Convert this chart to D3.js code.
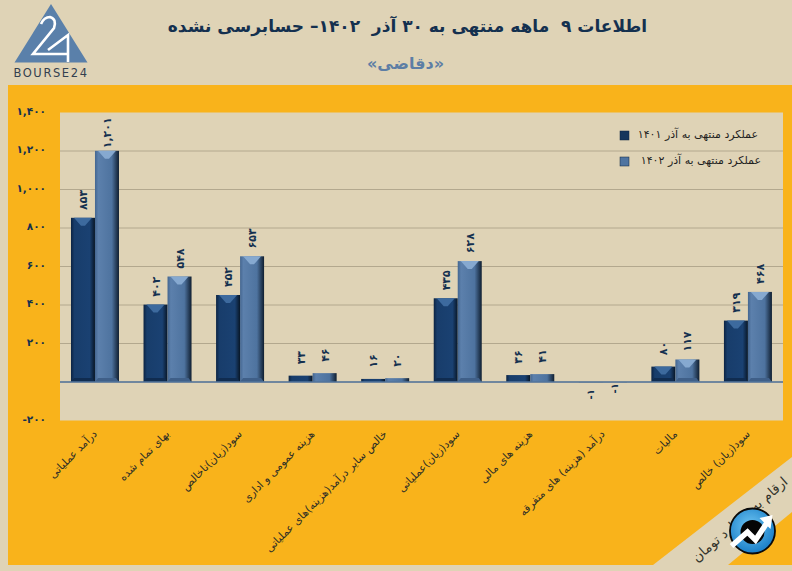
<!DOCTYPE html>
<html lang="fa"><head><meta charset="utf-8">
<style>html,body{margin:0;padding:0;background:#dfd3b6}svg{display:block}text{font-family:"DejaVu Sans",sans-serif;white-space:pre}</style>
<script src="https://cdn.jsdelivr.net/npm/d3@7/dist/d3.min.js"></script>
</head><body><div id="c"></div>
<script>
const categories=["درآمد عملیاتی","بهای تمام شده","سود(زیان)ناخالص","هزینه عمومی و اداری","خالص سایر درآمد(هزینه)های عملیاتی","سود(زیان)عملیاتی","هزینه های مالی","درآمد (هزینه) های متفرقه","مالیات","سود(زیان) خالص"];
const series1401=[853,402,452,33,16,435,36,-1,80,319];
const series1402=[1201,548,653,46,20,628,41,-1,117,468];
const seriesNames=["عملکرد منتهی به آذر ۱۴۰۱","عملکرد منتهی به آذر ۱۴۰۲"];
const tickValues=[-200,0,200,400,600,800,1000,1200,1400];
const titleText="اطلاعات ۹  ماهه منتهی به ۳۰ آذر  ۱۴۰۲– حسابرسی نشده";
const subtitleText="«دقاضی»";
const noteText="ارقام به میلیارد تومان";

const W=792,H=571,cream="#dfd3b6",orange="#f9b31b",navy="#14304f";
const fa=s=>String(s).replace(/\d/g,d=>"۰۱۲۳۴۵۶۷۸۹"[d]);
const fmt=v=>v===0?"":v<0?"-"+fa(d3.format(",")(-v)):fa(d3.format(",")(v));
const svg=d3.select("#c").append("svg").attr("width",W).attr("height",H).attr("viewBox",[0,0,W,H]);
const defs=svg.append("defs");
function grad(id,stops,x2,y2){const g=defs.append("linearGradient").attr("id",id).attr("x1",0).attr("y1",0).attr("x2",x2).attr("y2",y2);
 stops.forEach(([o,c])=>g.append("stop").attr("offset",o).attr("stop-color",c));}
grad("b1",[[0,"#0c2342"],[.14,"#183d6b"],[.78,"#1a4172"],[1,"#081626"]],1,0);
grad("b2",[[0,"#446690"],[.14,"#5c80ac"],[.7,"#4e739f"],[1,"#0f1e30"]],1,0);
const ball=defs.append("radialGradient").attr("id","ball").attr("cx",.45).attr("cy",.4).attr("r",.65);
ball.append("stop").attr("offset",0).attr("stop-color","#6fc6f3");
ball.append("stop").attr("offset",1).attr("stop-color","#1278c4");

svg.append("rect").attr("width",W).attr("height",H).attr("fill",cream);
svg.append("rect").attr("x",8).attr("y",85).attr("width",784).attr("height",480).attr("fill",orange);

// plot
const x=d3.scaleBand().domain(categories).range([58.7,784.2]);
const y=d3.scaleLinear().domain([-200,1400]).range([420.5,112.5]);
const barW=24;
svg.append("rect").attr("x",60).attr("y",y(1400)).attr("width",723).attr("height",y(-200)-y(1400)).attr("fill",cream);
svg.append("g").selectAll("line").data(tickValues.filter(t=>t>-200&&t<1400)).join("line")
 .attr("x1",60).attr("x2",783).attr("y1",y).attr("y2",y).attr("stroke","#b3a88e").attr("stroke-width",1);

const yAxis=d3.axisLeft(y).tickValues(tickValues).tickFormat(fmt).tickSize(0).tickPadding(14);
const ga=svg.append("g").attr("transform","translate(60,-1.5)").call(yAxis);
ga.select(".domain").remove();
ga.selectAll("text").attr("fill",navy).attr("font-size",10.5).attr("font-weight","bold").style("font-family",'"DejaVu Sans",sans-serif');

const rows=[{v:series1401,f:"url(#b1)",tip:"#3d6a9e",off:0},{v:series1402,f:"url(#b2)",tip:"#86a9d0",off:barW}];
rows.forEach((s,si)=>{
 const g=svg.append("g");
 const bx=i=>x(categories[i])+x.bandwidth()/2-barW+s.off;
 const data=s.v.map((v,i)=>({v,i}));
 g.selectAll("rect").data(data).join("rect")
  .attr("x",d=>bx(d.i)).attr("width",barW)
  .attr("y",d=>Math.min(y(d.v),y(0))).attr("height",d=>Math.abs(y(d.v)-y(0)))
  .attr("fill",s.f);
 g.selectAll("path.tip").data(data.filter(d=>d.v>60)).join("path").attr("class","tip")
  .attr("d",d=>{const X=bx(d.i),T=y(d.v);return `M${X+3},${T}L${X+barW-3},${T}L${X+barW/2+2},${T+8}L${X+barW/2-2},${T+8}Z`;})
  .attr("fill",s.tip);
 g.selectAll("path.foot").data(data.filter(d=>d.v>60)).join("path").attr("class","foot")
  .attr("d",d=>{const X=bx(d.i),B=y(0);return `M${X},${B}L${X+barW},${B}L${X+barW-3},${B-4}L${X+3},${B-4}Z`;})
  .attr("fill",si?"#3f5f88":"#102c50");
 g.selectAll("text").data(data).join("text")
  .attr("transform",d=>{const cx=bx(d.i)+barW/2;
    return d.v<0?`translate(${cx+3.5},${y(d.v)+(si?1:7)}) rotate(-90)`:`translate(${cx+4},${y(d.v)-18}) rotate(-90)`;})
  .attr("text-anchor",d=>d.v<0?"end":"middle").attr("font-size",d=>d.v<0?10:11).attr("font-weight","bold").attr("fill",navy)
  .text(d=>fmt(d.v));
});
svg.append("line").attr("x1",60).attr("x2",783).attr("y1",y(0)).attr("y2",y(0)).attr("stroke","#52749c").attr("stroke-width",1.5);

// category labels
svg.append("g").selectAll("text").data(categories).join("text")
 .attr("transform",d=>`translate(${x(d)+x.bandwidth()/2-3},${429}) rotate(-45)`)
 .attr("direction","rtl").attr("text-anchor","start").attr("dominant-baseline","hanging")
 .attr("font-size",10.8).attr("fill","#2e2e26").text(d=>d);

// titles
svg.append("text").attr("x",407.5).attr("y",32).attr("text-anchor","middle").attr("direction","rtl")
 .attr("font-size",17).attr("font-weight","bold").attr("fill",navy).text(titleText);
svg.append("text").attr("x",405.5).attr("y",69).attr("text-anchor","middle").attr("direction","rtl")
 .attr("font-size",16).attr("font-weight","bold").attr("fill","#5d7ea5").text(subtitleText);

// legend
const lg=svg.append("g").selectAll("g").data(seriesNames).join("g").attr("transform",(d,i)=>`translate(0,${135+i*26})`);
lg.append("rect").attr("x",620).attr("y",-4).attr("width",9).attr("height",9).attr("fill",(d,i)=>i?"#4f74a0":"#16365c").attr("stroke","#0f2440").attr("stroke-width",.5);
lg.append("text").attr("x",(d,i)=>758+i*3).attr("y",3).attr("direction","rtl").attr("text-anchor","start").attr("font-size",11).attr("fill","#1f1f1f").text(d=>d);

// corner band
svg.append("path").attr("d","M792,457L792,512L728,565L653,565Z").attr("fill",cream);
svg.append("rect").attr("x",0).attr("y",565).attr("width",W).attr("height",6).attr("fill",cream);
svg.append("text").attr("transform","translate(786,480) rotate(-41)")
 .attr("direction","rtl").attr("text-anchor","start").attr("dominant-baseline","middle").attr("font-size",13.5).attr("fill","#33332b").text(noteText);

// circular badge
const bd=svg.append("g").attr("transform","translate(752.5,531)");
bd.append("circle").attr("r",22.5).attr("fill","url(#ball)").attr("stroke","#0a0a0a").attr("stroke-width",1.8);
bd.append("circle").attr("r",12).attr("cy",1).attr("fill","#050505");
bd.append("path").attr("d","M-21,15L-5,1L3,9L15,-9").attr("fill","none").attr("stroke","#fff").attr("stroke-width",5.5);
bd.append("path").attr("d","M7,-13L20,-16L18,-2Z").attr("fill","#fff");

// logo
const lo=svg.append("g");
lo.append("path").attr("d","M51,4L87.5,62.5L14.5,62.5Z").attr("fill","#5a80aa");
lo.append("path").attr("d","M41,24Q44,17 50,17Q57,19 54,28L33,54L68,54M68,62L68,35L48,50").attr("fill","none").attr("stroke","#fff").attr("stroke-width",2.6);
lo.append("text").attr("x",51).attr("y",77).attr("text-anchor","middle").attr("font-size",11.5).attr("letter-spacing",1.6).attr("fill","#33404f").text("BOURSE24");
</script></body></html>
